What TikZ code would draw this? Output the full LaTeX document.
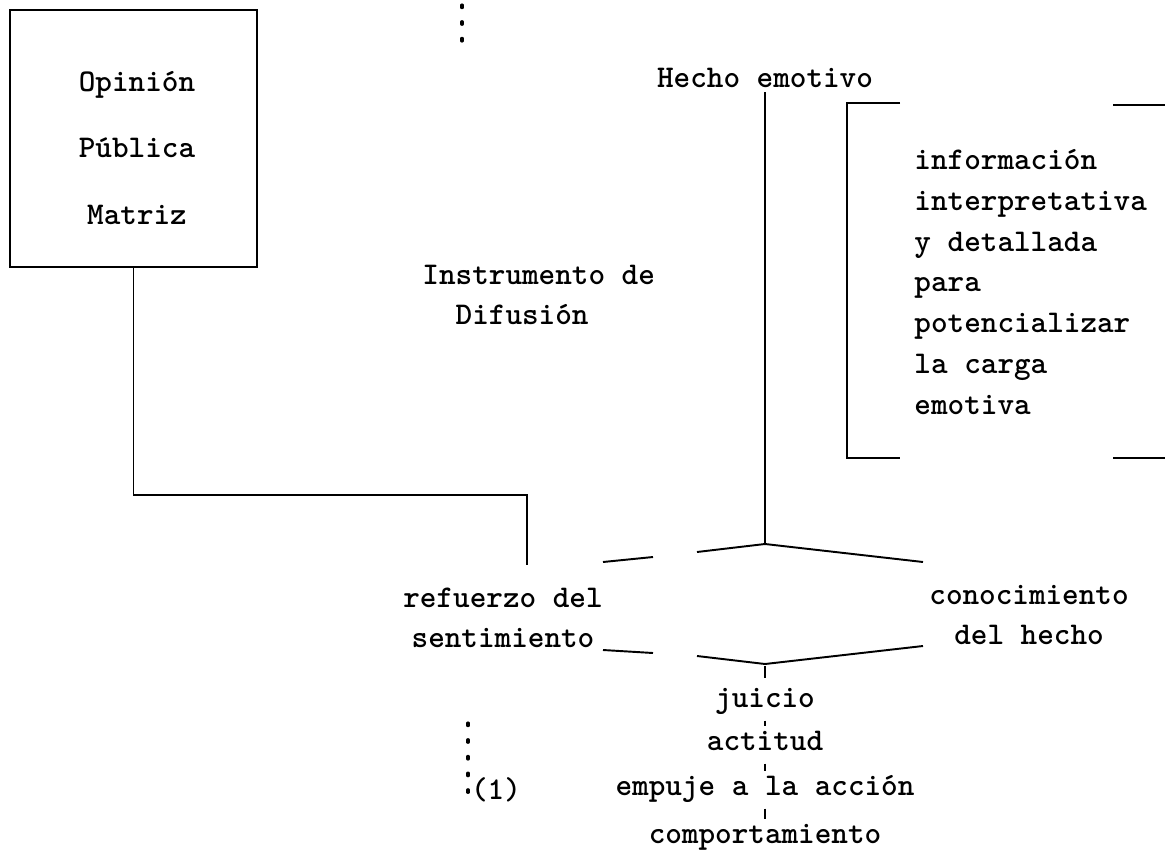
\documentclass[tikz,border=0pt]{standalone}
\usepackage{tikz}

\newcommand{\typed}{\fontsize{18}{23}\selectfont\ttfamily\bfseries}

\begin{document}
\begin{tikzpicture}[x=0.02cm,y=-0.02cm,line width=1.1pt,
    every node/.style={font=\typed, inner sep=2pt},
    block/.style={draw, line width=1.3pt, minimum width=4.94cm, minimum height=5.14cm},
    item/.style={text height=9pt, text depth=3pt, inner sep=3pt},
    typedline/.style={line width=1.8pt, dash pattern=on 1.5pt off 8pt, line cap=round},
    tick/.style={line width=1pt, shorten <=1pt, shorten >=1pt}]
  \useasboundingbox (0,0) rectangle (1165,862);

  \node[block] (matriz) at (133.5,138.5) {};
  \node[align=center, font=\fontsize{18}{37.7}\selectfont\ttfamily\bfseries] (matriztxt) at (137,148) {Opinión\\Pública\\Matriz};

  \node (hecho) at (765,78) {Hecho emotivo};
  \node[anchor=west, align=left] (difusion) at (418,295) {Instrumento de\\\hphantom{In}Difusión};
  \node[anchor=west, align=left, font=\fontsize{18}{23.2}\selectfont\ttfamily\bfseries] (info) at (910,282)
    {información\\interpretativa\\y detallada\\para\\potencializar\\la carga\\emotiva};

  \node[align=center] (refuerzo) at (503,618) {refuerzo del\\sentimiento};
  \node[align=center] (conocimiento) at (1029,615) {conocimiento\\del hecho};

  \node[item] (juicio) at (765,702) {juicio};
  \node[item] (actitud) at (765,745) {actitud};
  \node[item] (empuje) at (765,790) {empuje a la acción};
  \node[item] (comportamiento) at (765,838) {comportamiento};
  \node (nota) at (496,790) {(1)};

  % corchete
  \coordinate (brt) at (847,103);
  \coordinate (brtr) at (900,103);
  \coordinate (brb) at (847,458);
  \coordinate (brbr) at (900,458);
  \coordinate (rta) at (1113,105);
  \coordinate (rtb) at (1165,105);
  \coordinate (rba) at (1113,458);
  \coordinate (rbb) at (1165,458);
  \draw (brtr) -- (brt) -- (brb) -- (brbr);
  \draw (rta) -- (rtb);
  \draw (rba) -- (rbb);

  % techo y v
  \coordinate (apex) at (765,544);
  \coordinate (roofl) at (603,562);
  \coordinate (roofla) at (653,557);
  \coordinate (rooflb) at (697,552);
  \coordinate (roofr) at (923,562);
  \coordinate (vl) at (603,650);
  \coordinate (vla) at (653,653);
  \coordinate (vlb) at (697,656);
  \coordinate (vapex) at (765,664);
  \coordinate (vr) at (923,646);

  \draw (hecho.south) -- (apex);
  \draw (roofl) -- (roofla);
  \draw (rooflb) -- (apex) -- (roofr);
  \draw (vl) -- (vla);
  \draw (vlb) -- (vapex) -- (vr);

  \coordinate (bend) at (527,495);
  \coordinate (reftop) at (527,565);
  \draw (matriz.south) |- (bend) -- (reftop);

  \draw[tick, shorten >=4pt] (vapex) -- (juicio.north);
  \draw[tick] (juicio) -- (actitud);
  \draw[tick] (actitud) -- (empuje);
  \draw[tick] (empuje) -- (comportamiento);

  \coordinate (dota) at (462,5);
  \coordinate (dotb) at (462,45);
  \coordinate (dotc) at (468,723);
  \coordinate (dotd) at (468,805);
  \draw[typedline] (dota) -- (dotb);
  \draw[typedline] (dotc) -- (dotd);
\end{tikzpicture}
\end{document}
